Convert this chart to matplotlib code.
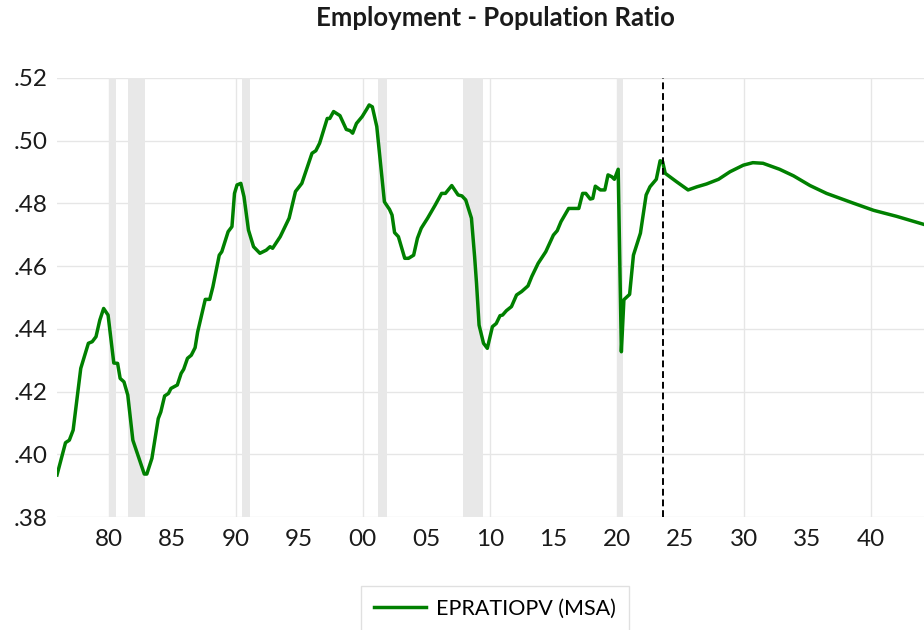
import matplotlib
matplotlib.use("Agg")
import matplotlib.pyplot as plt
from matplotlib.ticker import FuncFormatter

# ---- data ----
years = [1975.93, 1976.6, 1976.9, 1977.2, 1977.8, 1978.4, 1978.7, 1979.0, 1979.3, 1979.6,
         1979.95, 1980.4, 1980.7, 1980.9, 1981.2, 1981.5, 1981.9, 1982.8, 1983.0, 1983.4,
         1983.9, 1984.1, 1984.4, 1984.7, 1984.9, 1985.4, 1985.7, 1985.9, 1986.2, 1986.5,
         1986.8, 1987.0, 1987.6, 1987.95, 1988.2, 1988.7, 1988.9, 1989.4, 1989.7, 1989.9,
         1990.1, 1990.4, 1990.65, 1991.0, 1991.4, 1991.9, 1992.4, 1992.7, 1992.9, 1993.5,
         1994.2, 1994.7, 1995.2, 1996.0, 1996.3, 1996.6, 1997.2, 1997.4, 1997.7, 1998.2,
         1998.7, 1999.0, 1999.2, 1999.5, 1999.95, 2000.3, 2000.5, 2000.75, 2001.1, 2001.7,
         2002.1, 2002.3, 2002.5, 2002.8, 2003.3, 2003.6, 2004.0, 2004.3, 2004.6, 2005.1,
         2005.7, 2006.2, 2006.5, 2007.0, 2007.5, 2007.8, 2008.1, 2008.55, 2008.8, 2008.95,
         2009.15, 2009.5, 2009.8, 2010.2, 2010.5, 2010.8, 2011.0, 2011.3, 2011.7, 2012.1,
         2012.5, 2013.0, 2013.3, 2013.8, 2014.4, 2015.0, 2015.3, 2015.6, 2016.2, 2016.6,
         2017.0, 2017.3, 2017.55, 2017.9, 2018.1, 2018.3, 2018.7, 2019.05, 2019.3, 2019.6,
         2019.8, 2020.1, 2020.35, 2020.55, 2021.0, 2021.3, 2021.85, 2022.3, 2022.6, 2023.1,
         2023.4, 2023.6, 2023.8, 2024.7, 2025.6, 2026.3, 2027.05, 2028.0, 2028.9, 2029.95,
         2030.7, 2031.5, 2032.8, 2033.9, 2035.2, 2036.5, 2038.6, 2040.2, 2042.0, 2044.17]

ratio = [0.3934, 0.4037, 0.4045, 0.4077, 0.4274, 0.4354, 0.4359, 0.4375, 0.4428, 0.4465,
         0.4444, 0.4291, 0.4290, 0.4242, 0.4231, 0.4189, 0.4045, 0.3937, 0.3937, 0.3987,
         0.4114, 0.4135, 0.4186, 0.4194, 0.4210, 0.4221, 0.4258, 0.4271, 0.4306, 0.4316,
         0.4340, 0.4390, 0.4494, 0.4494, 0.4534, 0.4635, 0.4646, 0.4710, 0.4726, 0.4832,
         0.4859, 0.4864, 0.4821, 0.4715, 0.4662, 0.4641, 0.4651, 0.4662, 0.4657, 0.4694,
         0.4753, 0.4838, 0.4864, 0.4960, 0.4968, 0.4992, 0.5071, 0.5071, 0.5093, 0.5080,
         0.5036, 0.5032, 0.5024, 0.5055, 0.5077, 0.5100, 0.5114, 0.5108, 0.5045, 0.4805,
         0.4781, 0.4763, 0.4707, 0.4694, 0.4625, 0.4625, 0.4635, 0.4689, 0.4721, 0.4753,
         0.4795, 0.4832, 0.4832, 0.4857, 0.4827, 0.4824, 0.4811, 0.4753, 0.4630, 0.4545,
         0.4412, 0.4354, 0.4338, 0.4407, 0.4417, 0.4442, 0.4444, 0.4458, 0.4471, 0.4508,
         0.4519, 0.4537, 0.4567, 0.4609, 0.4646, 0.4699, 0.4713, 0.4742, 0.4784, 0.4784,
         0.4784, 0.4832, 0.4832, 0.4814, 0.4816, 0.4855, 0.4843, 0.4843, 0.4891, 0.4885,
         0.4877, 0.4909, 0.4327, 0.4493, 0.4510, 0.4635, 0.4705, 0.4827, 0.4853, 0.4877,
         0.4936, 0.4933, 0.4896, 0.4869, 0.4843, 0.4853, 0.4862, 0.4877, 0.4901, 0.4922,
         0.4930, 0.4928, 0.4909, 0.4888, 0.4857, 0.4832, 0.4801, 0.4778, 0.4759, 0.4733]

recession_start = [1980.0, 1981.5, 1990.5, 2001.2, 2007.9, 2020.0]
recession_end   = [1980.6, 1982.85, 1991.15, 2001.9, 2009.45, 2020.45]

forecast_start = 2023.6
series_label = "EPRATIOPV (MSA)"
title = "Employment - Population Ratio"

yticks = [0.38, 0.40, 0.42, 0.44, 0.46, 0.48, 0.50, 0.52]
xticks = list(range(1980, 2045, 5))
xgrid = list(range(1980, 2045, 10))

# ---- plot ----
FONT = ["Lato", "DejaVu Sans"]
plt.rcParams["font.family"] = FONT

fig = plt.figure(figsize=(9.24, 6.30), dpi=100)
L, R, T, B = 57, 924, 78, 517
W, H = 924, 630
ax = fig.add_axes([L / W, 1 - B / H, (R - L) / W, (B - T) / H])

for s, e in zip(recession_start, recession_end):
    ax.axvspan(s, e, color="#e8e8e8", lw=0, zorder=1)

for g in yticks:
    ax.axhline(g, color="#e6e6e6", lw=1.0, zorder=0.5)
for g in xgrid:
    ax.axvline(g, color="#e6e6e6", lw=1.0, zorder=0.5)

ax.plot(years, ratio, color="#008000", lw=2.5, zorder=3, label=series_label,
        solid_joinstyle="round")
ax.axvline(forecast_start, color="black", lw=1.4, ls=(0, (3.5, 2.0)), zorder=4)

ax.set_xlim(1975.93, 2044.17)
ax.set_ylim(0.38, 0.52)
ax.set_yticks(yticks)
ax.yaxis.set_major_formatter(FuncFormatter(lambda v, p: ("%.2f" % v)[1:]))
ax.set_xticks(xticks)
ax.xaxis.set_major_formatter(FuncFormatter(lambda v, p: "%02d" % (int(round(v)) % 100)))
ax.tick_params(axis="both", length=0, labelsize=17.5, colors="#1a1a1a")
ax.tick_params(axis="y", pad=7)
ax.tick_params(axis="x", pad=9)
for sp in ax.spines.values():
    sp.set_visible(False)

fig.text(495 / W, 1 - 18 / H, title, ha="center", va="center",
         fontsize=18.5, fontweight="bold", color="#1a1a1a")

leg = fig.legend(loc="upper center", bbox_to_anchor=(495 / W, 1 - 586 / H),
                 frameon=True, fancybox=False, fontsize=15.5, handlelength=2.4,
                 borderpad=0.6, handletextpad=0.5, borderaxespad=0)
leg.get_frame().set_edgecolor("#d9d9d9")
leg.get_frame().set_linewidth(1.0)

fig.savefig("out.png", dpi=100)
